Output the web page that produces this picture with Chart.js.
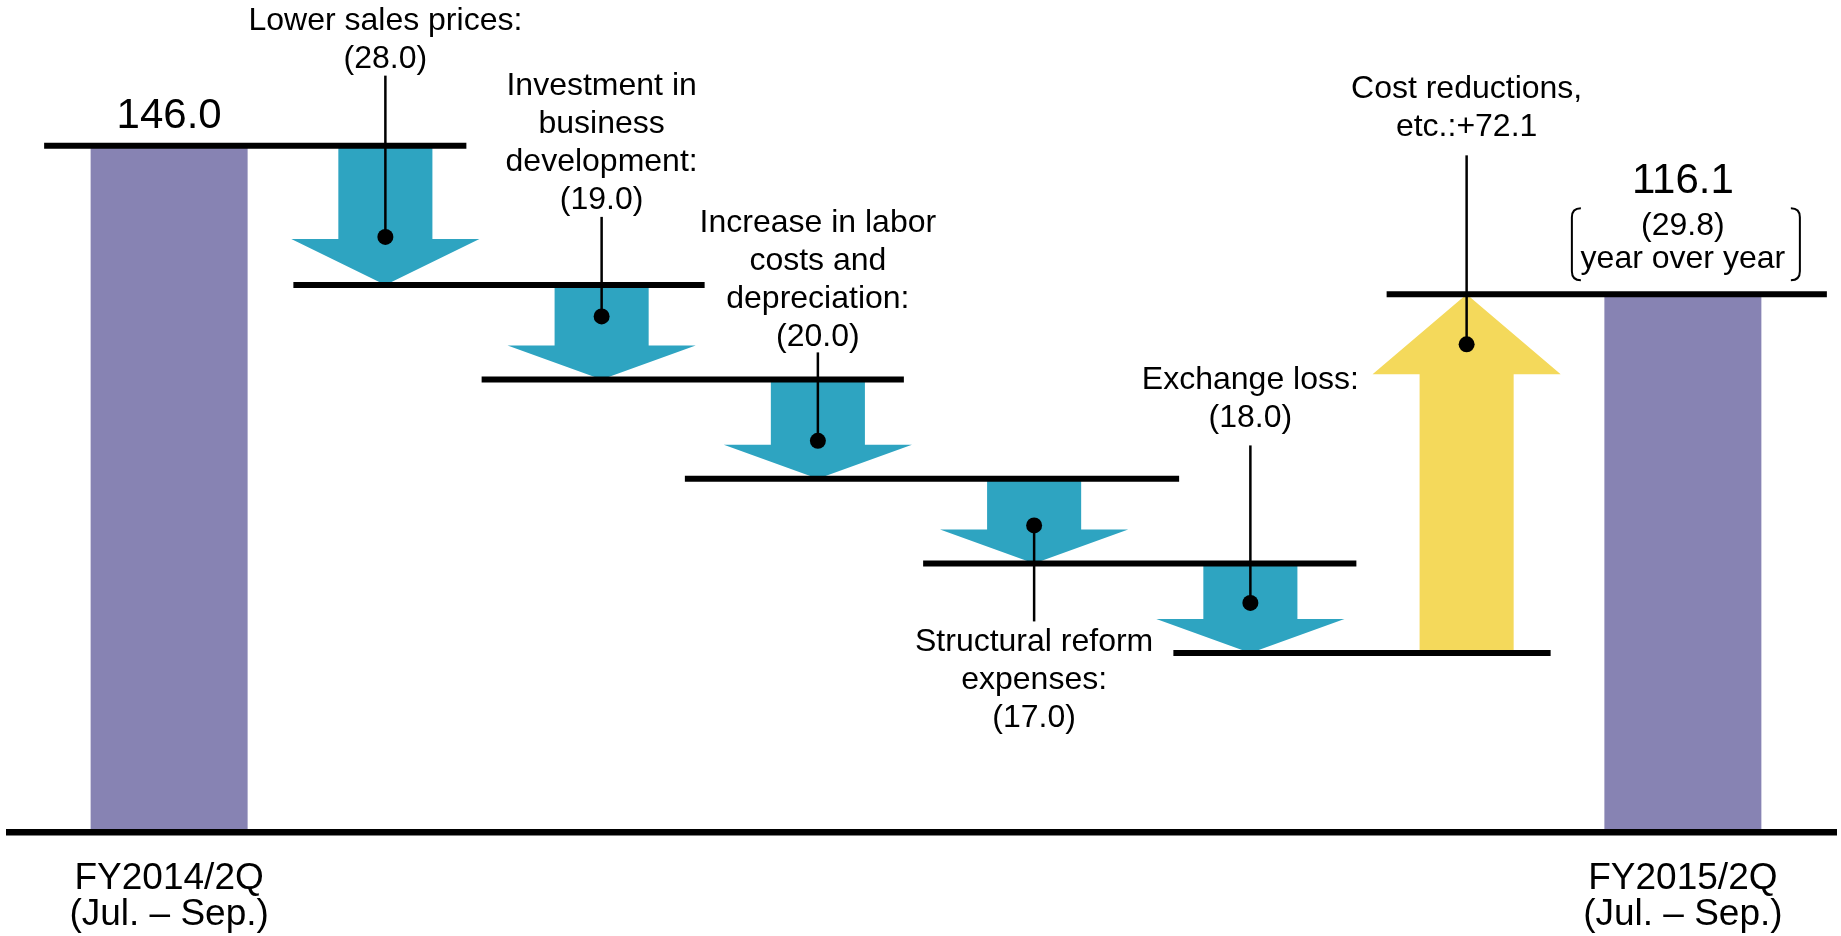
<!DOCTYPE html>
<html>
<head>
<meta charset="utf-8">
<script src="https://cdn.jsdelivr.net/npm/chart.js@4.4.1/dist/chart.umd.min.js"></script>
<style>
  html, body { margin: 0; padding: 0; background: #fff; }
  #wrap { width: 1841px; height: 936px; position: relative; }
</style>
</head>
<body>
<div id="wrap"><canvas id="myChart"></canvas></div>
<script>
// ---------------- data ----------------
const categories = [
  "FY2014/2Q",
  "Lower sales prices",
  "Investment in business development",
  "Increase in labor costs and depreciation",
  "Structural reform expenses",
  "Exchange loss",
  "Cost reductions, etc.",
  "FY2015/2Q",
];
const tickLabels = [["FY2014/2Q", "(Jul. – Sep.)"], "", "", "", "", "", "", ["FY2015/2Q", "(Jul. – Sep.)"]];
const startTotal = 146.0;
const endTotal = 116.1;
const stepValues = [-28.0, -19.0, -20.0, -17.0, -18.0, 72.1];
const stepTexts = [
  ["Lower sales prices:", "(28.0)"],
  ["Investment in", "business", "development:", "(19.0)"],
  ["Increase in labor", "costs and", "depreciation:", "(20.0)"],
  ["Structural reform", "expenses:", "(17.0)"],
  ["Exchange loss:", "(18.0)"],
  ["Cost reductions,", "etc.:+72.1"],
];
const startText = ["146.0"];
const endText = ["116.1", "(29.8)", "year over year"];

// ---------------- 색 / 폰트 ----------------
const FONT = "'Liberation Sans', Arial, sans-serif";
const colorTotal = "#8783B3";
const colorDown = "#2EA4C1";
const colorUp = "#F4D95B";

// running levels for the waterfall
const levels = [startTotal];
const stepBars = [null];
stepValues.forEach((v) => {
  const prev = levels[levels.length - 1];
  const next = Math.round((prev + v) * 10) / 10;
  stepBars.push([Math.min(prev, next), Math.max(prev, next)]);
  levels.push(next);
});
stepBars.push(null);
const totalBars = [startTotal, null, null, null, null, null, null, endTotal];
const stepColors = [null, ...stepValues.map((v) => (v < 0 ? colorDown : colorUp)), null];

// ---------------- plugin: arrows, level lines, callouts ----------------
const waterfallPlugin = {
  id: "waterfall",
  beforeDatasetDraw(chart, args) {
    if (args.index === 1) return false; // arrows drawn by hand below
  },
  afterDatasetsDraw(chart, args, opts) {
    const { ctx } = chart;
    const xs = chart.scales.x;
    const ys = chart.scales.y;
    const arrows = chart.getDatasetMeta(1).data;
    const totals = chart.getDatasetMeta(0).data;
    ctx.save();

    // arrows
    const dots = [];
    stepValues.forEach((v, k) => {
      const el = arrows[k + 1];
      const c = opts.callouts[k];
      const cx = el.x;
      const half = el.width / 2;
      const y0 = ys.getPixelForValue(levels[k]);
      const y1 = ys.getPixelForValue(levels[k + 1]);
      const down = v < 0;
      const headH = c.head || (down ? opts.downHead : opts.upHead);
      const neck = down ? y1 - headH : y1 + headH;
      ctx.fillStyle = el.options.backgroundColor;
      ctx.beginPath();
      ctx.moveTo(cx - half, y0);
      ctx.lineTo(cx + half, y0);
      ctx.lineTo(cx + half, neck);
      ctx.lineTo(cx + half * 2, neck);
      ctx.lineTo(cx, y1);
      ctx.lineTo(cx - half * 2, neck);
      ctx.lineTo(cx - half, neck);
      ctx.closePath();
      ctx.fill();
      dots.push({
        x: cx,
        y: down ? neck - c.dot : y1 + c.dot,
        top: Math.min(y0, y1),
        bottom: Math.max(y0, y1),
      });
    });

    // level lines
    ctx.strokeStyle = "#000";
    ctx.lineWidth = 6;
    levels.forEach((lv, k) => {
      const py = ys.getPixelForValue(lv);
      const left = xs.getPixelForValue(k) - opts.lineLeft[k];
      const right = xs.getPixelForValue(k + 1) + opts.lineRight[k];
      ctx.beginPath();
      ctx.moveTo(left, py);
      ctx.lineTo(right, py);
      ctx.stroke();
    });

    // base line
    const base = ys.getPixelForValue(ys.min);
    ctx.fillStyle = "#000";
    ctx.fillRect(6, base - 3, chart.width - 10, 6.5);

    // callouts
    ctx.textAlign = "center";
    ctx.textBaseline = "alphabetic";
    ctx.font = "32px " + FONT;
    stepTexts.forEach((lines, k) => {
      const d = dots[k];
      const c = opts.callouts[k];
      ctx.strokeStyle = "#000";
      ctx.lineWidth = 2.5;
      ctx.beginPath();
      if (c.below) {
        ctx.moveTo(d.x, d.y);
        ctx.lineTo(d.x, d.bottom + c.drop);
        ctx.stroke();
        lines.forEach((t, j) => ctx.fillText(t, d.x, d.bottom + c.first + j * opts.lineGap));
      } else {
        const last = d.top - c.lift;
        ctx.moveTo(d.x, last + c.pad);
        ctx.lineTo(d.x, d.y);
        ctx.stroke();
        lines.forEach((t, j) => ctx.fillText(t, d.x, last - (lines.length - 1 - j) * opts.lineGap));
      }
      ctx.beginPath();
      ctx.arc(d.x, d.y, 8, 0, Math.PI * 2);
      ctx.fill();
    });

    // totals
    const b0 = totals[0];
    ctx.font = "42px " + FONT;
    ctx.fillText(startText[0], b0.x, ys.getPixelForValue(startTotal) - 18);
    const b7 = totals[totals.length - 1];
    const ly = ys.getPixelForValue(endTotal);
    ctx.fillText(endText[0], b7.x, ly - 101);
    ctx.font = "32px " + FONT;
    ctx.fillText(endText[1], b7.x, ly - 59);
    ctx.fillText(endText[2], b7.x, ly - 26);

    // bracket round "(29.8) year over year"
    const bl = b7.x - 111, br = b7.x + 117, bt = ly - 86, bb = ly - 14, r = 9;
    ctx.lineWidth = 2;
    ctx.beginPath();
    ctx.moveTo(bl + r, bt);
    ctx.quadraticCurveTo(bl, bt, bl, bt + r);
    ctx.lineTo(bl, bb - r);
    ctx.quadraticCurveTo(bl, bb, bl + r, bb);
    ctx.moveTo(br - r, bt);
    ctx.quadraticCurveTo(br, bt, br, bt + r);
    ctx.lineTo(br, bb - r);
    ctx.quadraticCurveTo(br, bb, br - r, bb);
    ctx.stroke();

    ctx.restore();
  },
};

// ---------------- chart ----------------
const config = {
  type: "bar",
  data: {
    labels: categories,
    datasets: [
      {
        label: "Operating income",
        data: totalBars,
        backgroundColor: colorTotal,
        barPercentage: 0.726,
        categoryPercentage: 1,
        grouped: false,
      },
      {
        label: "Change",
        data: stepBars,
        backgroundColor: stepColors,
        barPercentage: 0.435,
        categoryPercentage: 1,
        grouped: false,
      },
    ],
  },
  options: {
    responsive: true,
    maintainAspectRatio: false,
    animation: false,
    layout: { padding: { left: 61, right: 50, top: 76, bottom: 0 } },
    plugins: {
      legend: { display: false },
      tooltip: { enabled: false },
      waterfall: {
        downHead: 34,
        upHead: 80,
        lineGap: 38,
        lineLeft: [125, 92, 120, 133, 111, 77, 80],
        lineRight: [81, 103, 86, 145, 106, 84, 144],
        callouts: [
          { lift: 78, pad: 8, head: 46, dot: 2 },
          { lift: 76, pad: 8, dot: 29 },
          { lift: 33, pad: 6, dot: 4 },
          { below: true, drop: 58, first: 88, dot: 4 },
          { lift: 136, pad: 18, dot: 16 },
          { lift: 158, pad: 19, dot: 50 },
        ],
      },
    },
    scales: {
      x: {
        grid: { display: false },
        border: { display: false },
        ticks: {
          autoSkip: false,
          maxRotation: 0,
          padding: 21,
          color: "#000",
          font: { family: FONT, size: 37, lineHeight: "36px" },
          callback: (v, i) => tickLabels[i],
        },
        afterFit: (scale) => {
          scale.height = 104;
        },
      },
      y: {
        display: false,
        min: 8,
        max: 160,
      },
    },
  },
  plugins: [waterfallPlugin],
};
new Chart(document.getElementById("myChart"), config);
</script>
</body>
</html>
